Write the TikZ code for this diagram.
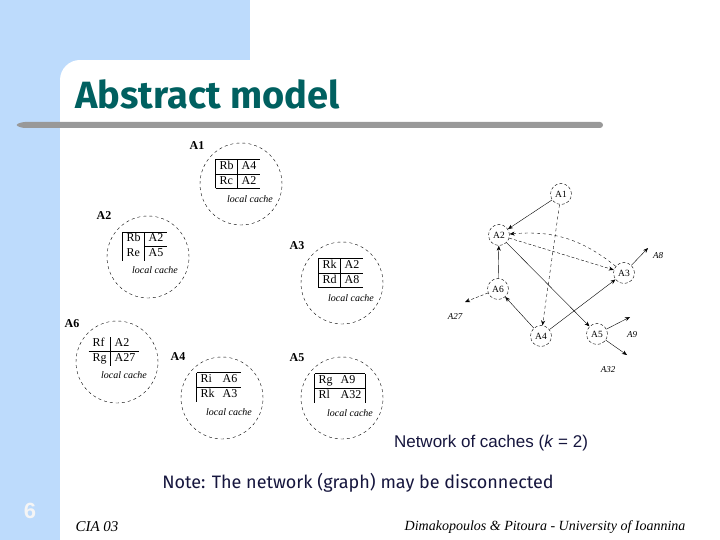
\documentclass[tikz,border=0pt]{standalone}
\usepackage{fontspec}
\setmainfont{Liberation Serif}
\setsansfont{Liberation Sans}
\newfontfamily\titlefont{Fira Sans}
\usepackage{xcolor}
\usetikzlibrary{positioning, arrows.meta}

\definecolor{slideblue}{RGB}{189,219,252}
\definecolor{titleteal}{RGB}{0,96,96}
\definecolor{textnavy}{RGB}{22,22,62}
\definecolor{rulegray}{RGB}{153,153,153}
\setlength{\tabcolsep}{4pt}
\renewcommand{\arraystretch}{1.1}

\begin{document}
\begin{tikzpicture}[x=1pt,y=-1pt,
    cache/.style={circle, draw, dashed, thin, minimum size=82pt, inner sep=0pt},
    cname/.style={font=\fontsize{12}{12}\selectfont\bfseries, inner sep=0pt},
    ctab/.style={font=\fontsize{12}{13}\selectfont, inner sep=0pt},
    clocal/.style={font=\fontsize{10}{10}\selectfont\itshape, inner sep=0pt},
    site/.style={circle, draw, densely dashed, thin, minimum size=21pt, inner sep=0pt, font=\fontsize{9.5}{9.5}\selectfont},
    ext/.style={font=\fontsize{9}{9}\selectfont\itshape, inner sep=0pt},
    >={Stealth[length=5pt,width=4pt]}]
  \useasboundingbox (0,0) rectangle (720,540);

  % slide background
  \fill[white] (0,0) rectangle (720,540);
  \fill[slideblue] (0,0) rectangle (250,60);
  \fill[slideblue] (0,0) rectangle (60,540);
  \fill[slideblue] (60,60) rectangle (80,80);
  \fill[white] (80,80) circle (20);
  \fill[rulegray, rounded corners=3pt] (15,125) -- (22,122) -- (603,122) -- (603,128) -- (22,128) -- cycle;

  \node[anchor=west, text=titleteal, font=\titlefont\bfseries\fontsize{38}{38}\selectfont] (title) at (72,94) {Abstract model};

  % local caches
  \node[cache] (c1) at (241,184) {};
  \node[cname] (n1) at (197,146) {A1};
  \node[ctab] (t1) at (238,174) {\begin{tabular}{|l|l}\hline Rb & A4\\\hline Rc & A2\\\hline\end{tabular}};
  \node[clocal] (l1) [below=6pt of t1, xshift=12pt] {local cache};

  \node[cache] (c2) at (148,257) {};
  \node[cname] (n2) at (104,216) {A2};
  \node[ctab] (t2) at (145,246) {\begin{tabular}{|l|l}\hline Rb & A2\\\cline{2-2} Re & A5\\\end{tabular}};
  \node[clocal] (l2) [below=6pt of t2, xshift=10pt] {local cache};

  \node[cache] (c3) at (342,283) {};
  \node[cname] (n3) at (297,246) {A3};
  \node[ctab] (t3) at (341,273) {\begin{tabular}{|l|l}\hline Rk & A2\\\hline Rd & A8\\\hline\end{tabular}};
  \node[clocal] (l3) [below=6pt of t3, xshift=10pt] {local cache};

  \node[cache] (c6) at (117,362) {};
  \node[cname] (n6) at (72,324) {A6};
  \node[ctab] (t6) at (114,351) {\begin{tabular}{l|l} Rf & A2\\\hline Rg & A27\\\end{tabular}};
  \node[clocal] (l6) [below=6pt of t6, xshift=10pt] {local cache};

  \node[cache] (c4) at (222,398) {};
  \node[cname] (n4) at (178,357) {A4};
  \node[ctab] (t4) at (219,387) {\begin{tabular}{|ll}\hline Ri & A6\\\hline Rk & A3\\\end{tabular}};
  \node[clocal] (l4) [below=6pt of t4, xshift=10pt] {local cache};

  \node[cache] (c5) at (342,398) {};
  \node[cname] (n5) at (297,358) {A5};
  \node[ctab] (t5) at (340,388) {\begin{tabular}{|ll|}\hline Rg & A9\\\hline Rl & A32\\\end{tabular}};
  \node[clocal] (l5) [below=6pt of t5, xshift=10pt] {local cache};

  % network of caches
  \node[site] (s1) at (561,194) {A1};
  \node[site] (s2) at (499,235) {A2};
  \node[site] (s3) at (624,273) {A3};
  \node[site] (s6) at (498,289) {A6};
  \node[site] (s4) at (541,336) {A4};
  \node[site] (s5) at (597,334) {A5};
  \coordinate (e27) at (465,302);
  \coordinate (e8) at (648,248);
  \coordinate (e9) at (630,317);
  \coordinate (e32) at (627,355);
  \node[ext] (x27) at (455,317) {A27};
  \node[ext] (x8) at (658,256) {A8};
  \node[ext] (x9) at (632,335) {A9};
  \node[ext] (x32) at (608,370) {A32};

  \path[->, thin]
    (s1) edge (s2)
         edge [dashed] (s4)
    (s3) edge [dashed, bend right=22] (s2)
    (s2) edge [densely dashed] (s3)
         edge (s5)
    (s6) edge (s2)
         edge [densely dashed] (e27)
    (s4) edge (s6)
         edge (s3)
    (s3) edge (e8)
    (s5) edge (e9)
         edge (e32);

  % captions and footer
  \node[text=textnavy, font=\sffamily\fontsize{17}{17}\selectfont] (caption) at (491,443) {Network of caches (\textit{k} = 2)};
  \node[text=textnavy, font=\titlefont\fontsize{18}{18}\selectfont] (note) at (358,483) {Note: The network (graph) may be disconnected};
  \node[text=white!92!gray, font=\sffamily\bfseries\fontsize{22}{22}\selectfont] (page) at (30,511) {6};
  \node[anchor=west, font=\itshape\fontsize{15}{15}\selectfont] (conf) at (72,527) {CIA 03};
  \node[anchor=east, font=\itshape\fontsize{14}{14}\selectfont] (authors) at (689,527) {Dimakopoulos \& Pitoura - University of Ioannina};
\end{tikzpicture}
\end{document}
